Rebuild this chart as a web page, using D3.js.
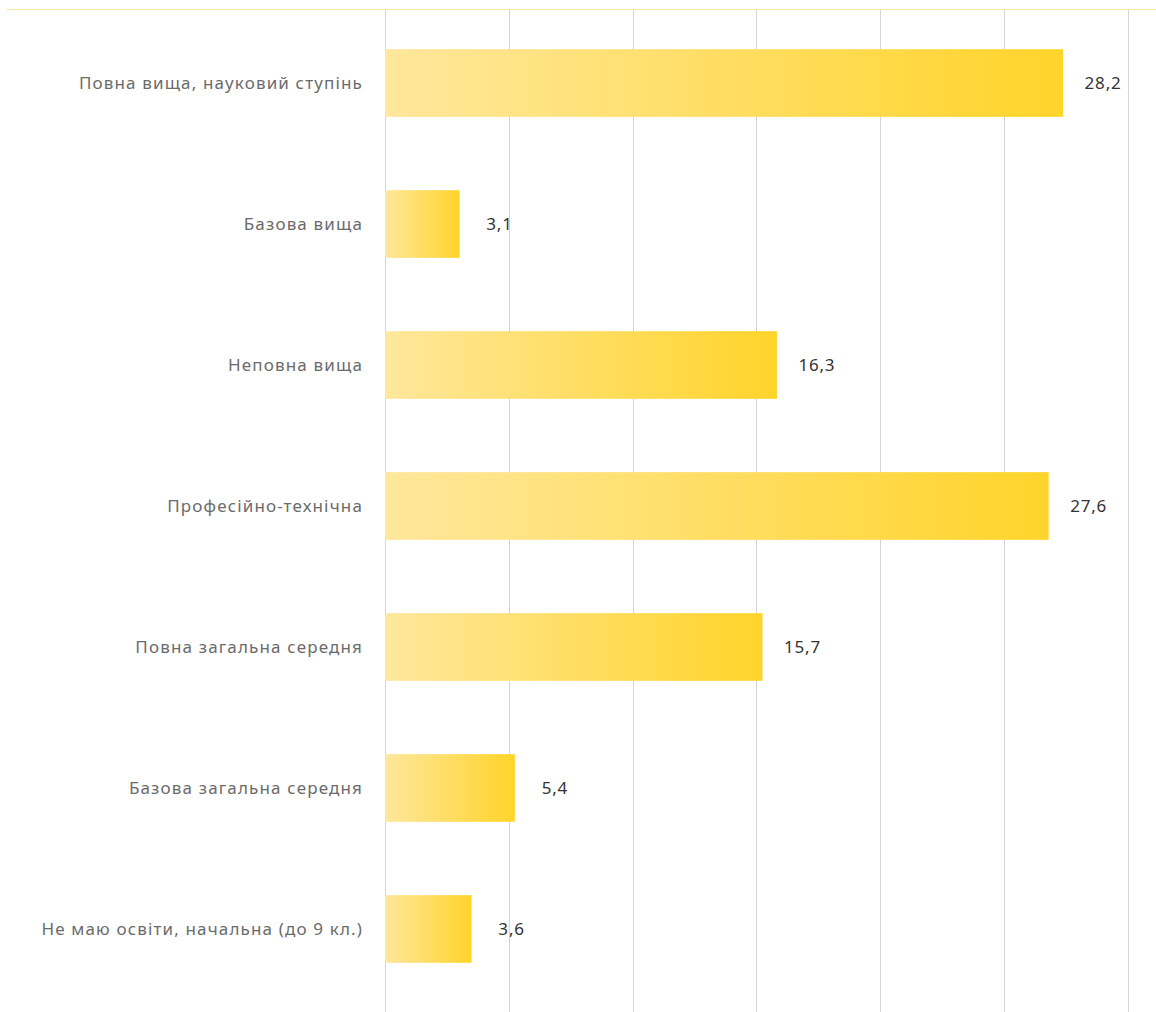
<!DOCTYPE html>
<html><head><meta charset="utf-8">
<script src="https://cdn.jsdelivr.net/npm/d3@7"></script>
<style>
html,body{margin:0;padding:0;background:#fff;}
svg{display:block;}
</style></head>
<body>
<svg id="chart" width="1156" height="1012"></svg>
<script>
const categories = [
  "Повна вища, науковий ступінь",
  "Базова вища",
  "Неповна вища",
  "Професійно-технічна",
  "Повна загальна середня",
  "Базова загальна середня",
  "Не маю освіти, начальна (до 9 кл.)"
];
const values = [28.2, 3.1, 16.3, 27.6, 15.7, 5.4, 3.6];
const valueLabels = ["28,2", "3,1", "16,3", "27,6", "15,7", "5,4", "3,6"];

const W = 1156, H = 1012;
const mLeft = 385, mRight = 1128, mTop = 9, mBottom = 1012;
const xMax = 30.9;
const gridCount = 6;

const svg = d3.select("#chart");
const font = "'Noto Sans', sans-serif";

const x = d3.scaleLinear().domain([0, xMax]).range([mLeft, mRight]);
const y = d3.scaleBand().domain(categories).range([mTop, 1003]).paddingInner(0.52).paddingOuter(0.285);

const defs = svg.append("defs");
const grad = defs.append("linearGradient").attr("id", "barGrad")
  .attr("x1", "0%").attr("x2", "100%").attr("y1", "0%").attr("y2", "0%");
grad.append("stop").attr("offset", "0%").attr("stop-color", "#FFE79C");
grad.append("stop").attr("offset", "100%").attr("stop-color", "#FFD42A");

// gridlines
const gridVals = d3.range(gridCount + 1).map(i => xMax * i / gridCount);
svg.append("g").selectAll("line").data(gridVals).join("line")
  .attr("x1", d => Math.round(x(d)) + 0.5).attr("x2", d => Math.round(x(d)) + 0.5)
  .attr("y1", mTop).attr("y2", mBottom)
  .attr("stroke", "#d4d4d4").attr("stroke-width", 1);

// top line
svg.append("line").attr("x1", 7).attr("x2", W).attr("y1", mTop + 0.5).attr("y2", mTop + 0.5)
  .attr("stroke", "#FCE3A0").attr("stroke-width", 1);

// bars
svg.append("g").selectAll("rect").data(values).join("rect")
  .attr("x", x(0))
  .attr("y", (d, i) => y(categories[i]))
  .attr("width", d => x(d) - x(0))
  .attr("height", y.bandwidth())
  .attr("fill", "url(#barGrad)");

// category labels
svg.append("g").selectAll("text").data(categories).join("text")
  .attr("x", 363)
  .attr("y", d => y(d) + y.bandwidth() / 2)
  .attr("dy", "0.35em")
  .attr("text-anchor", "end")
  .attr("font-family", font).attr("font-size", 17)
  .attr("letter-spacing", "1.15px")
  .attr("fill", "#6b6b6b")
  .text(d => d);

// value labels
svg.append("g").selectAll("text").data(values).join("text")
  .attr("x", d => x(d) + 40)
  .attr("y", (d, i) => y(categories[i]) + y.bandwidth() / 2)
  .attr("dy", "0.35em")
  .attr("text-anchor", "middle")
  .attr("font-family", font).attr("font-size", 17)
  .attr("letter-spacing", "0.8px")
  .attr("fill", "#333")
  .text((d, i) => valueLabels[i]);
</script>
</body></html>
